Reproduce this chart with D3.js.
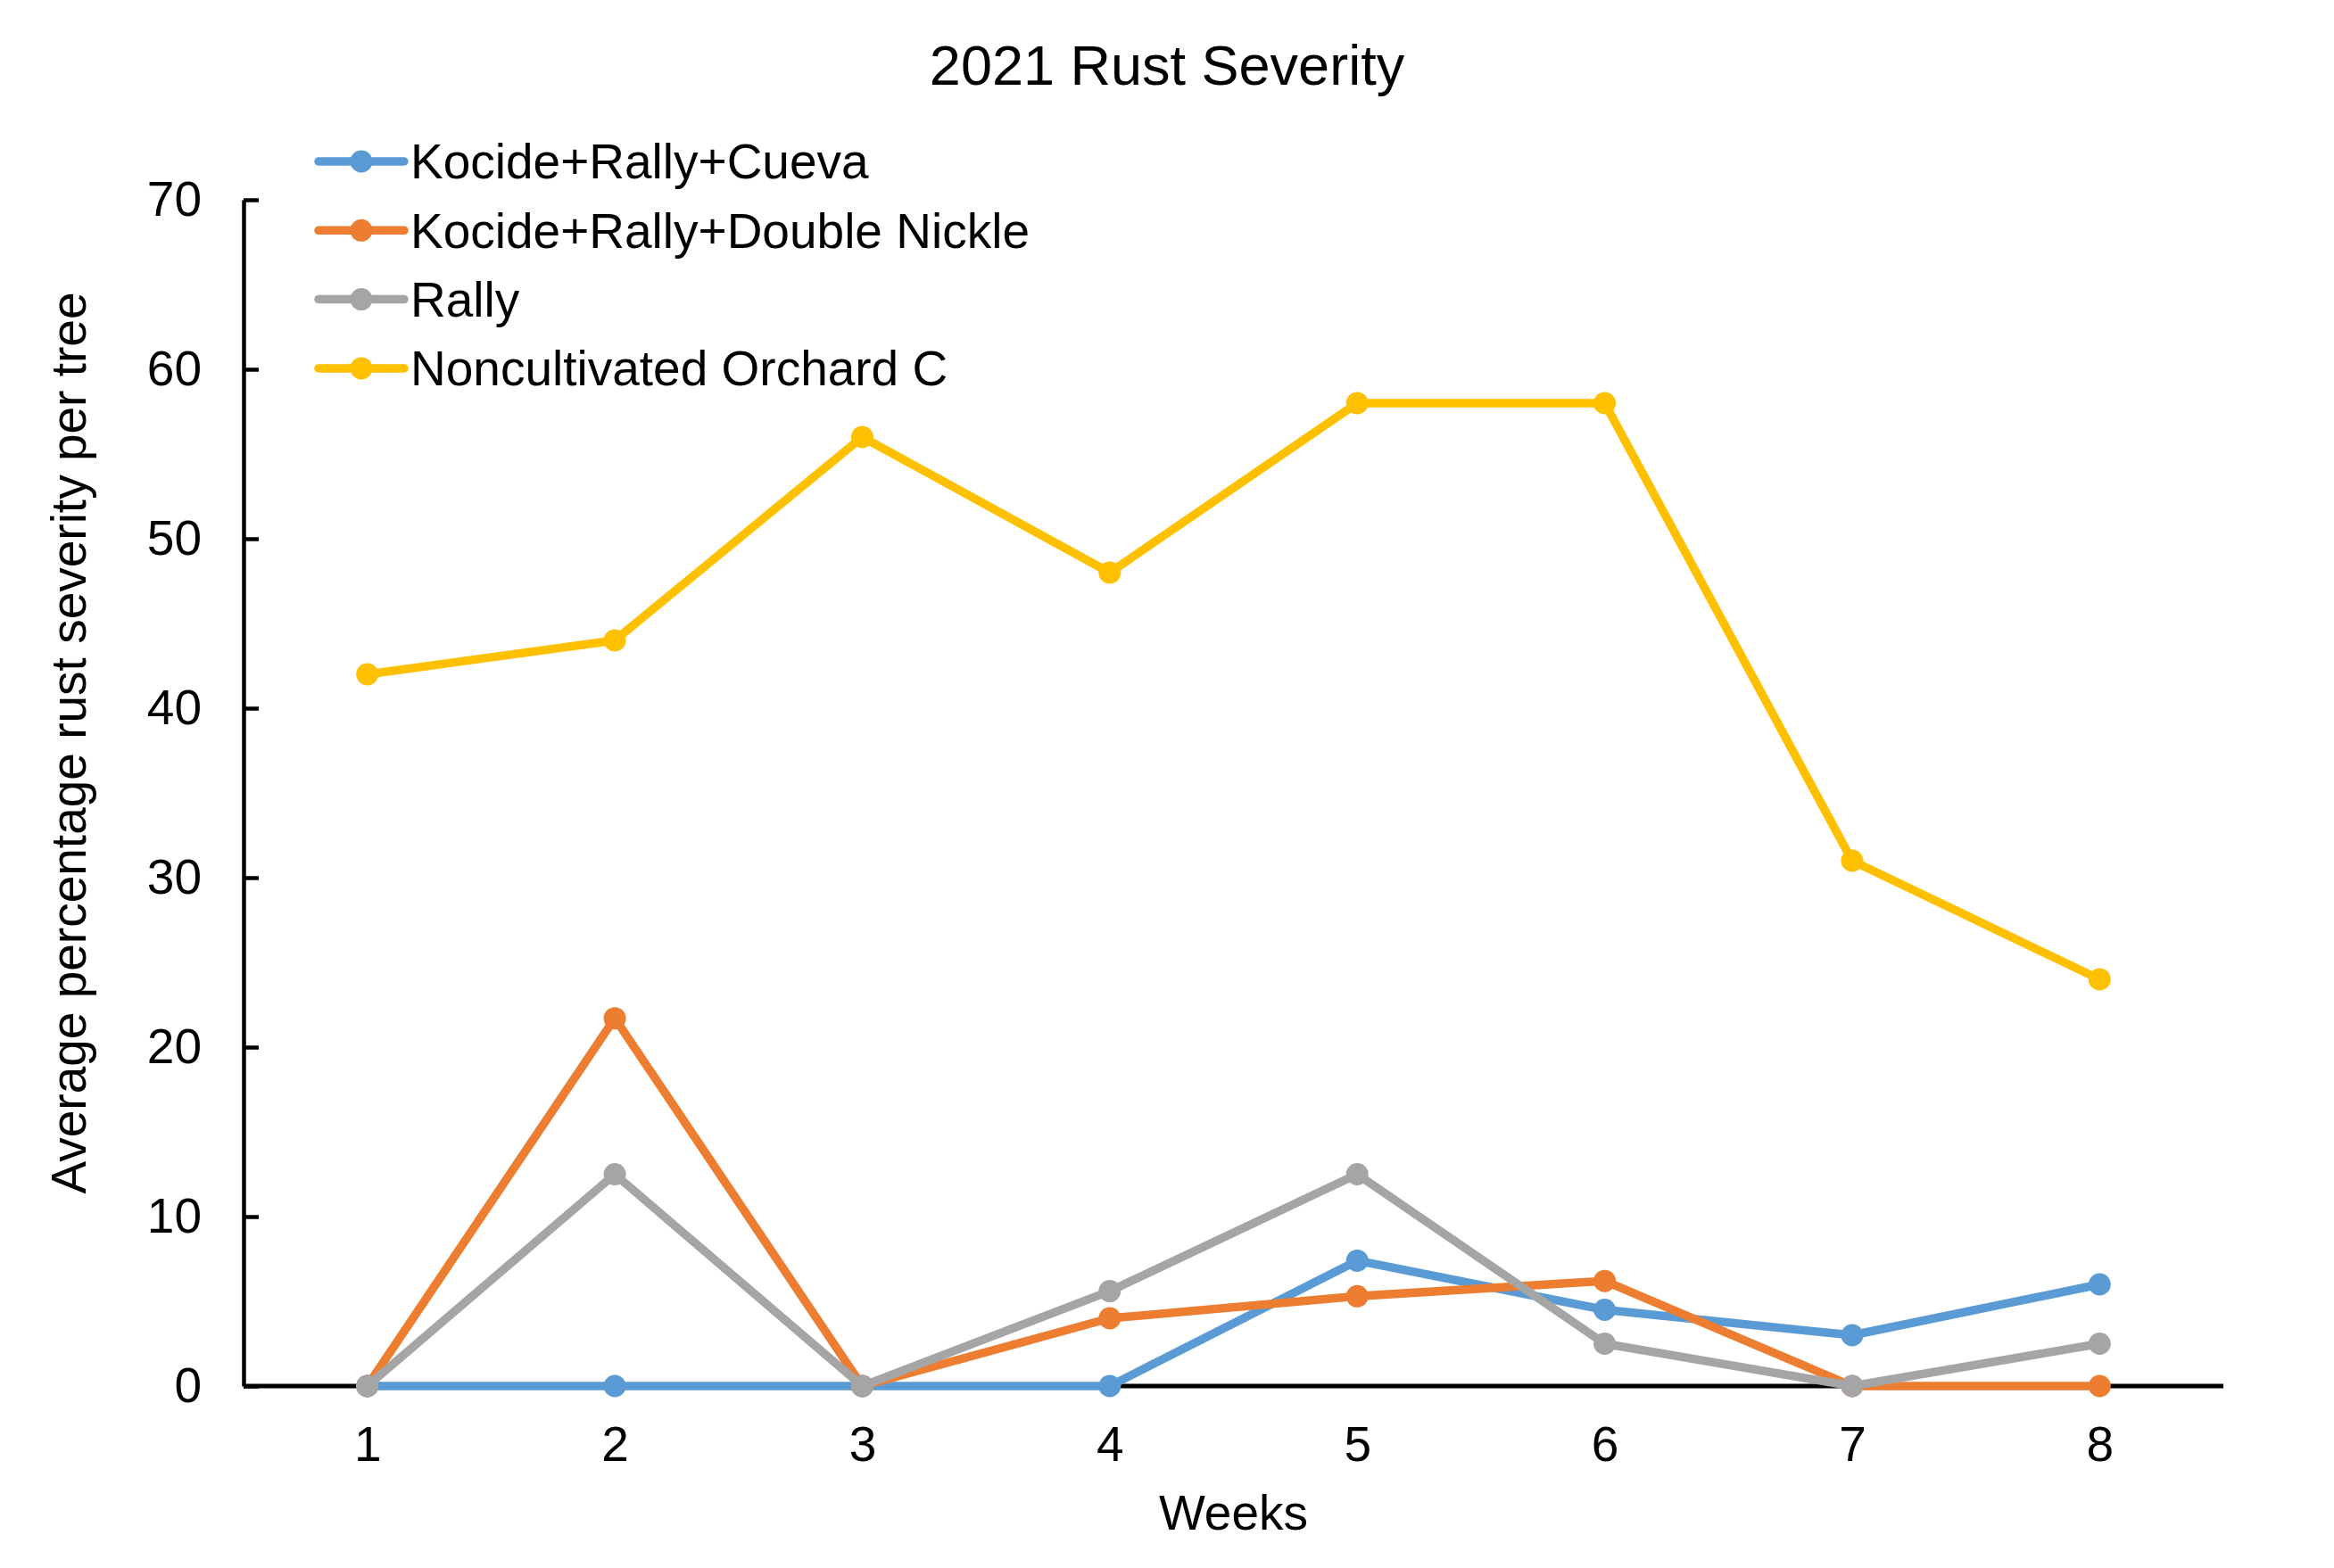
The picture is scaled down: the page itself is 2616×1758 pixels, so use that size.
<!DOCTYPE html>
<html>
<head>
<meta charset="utf-8">
<script src="https://cdn.jsdelivr.net/npm/d3@7"></script>
<style>
  html, body { margin: 0; padding: 0; background: #fff; }
  svg { display: block; font-family: "Liberation Sans", Arial, sans-serif; }
</style>
</head>
<body>
<svg id="chart" width="2616" height="1758"></svg>
<script>
const weeks = ["1", "2", "3", "4", "5", "6", "7", "8"];
const seriesNames = ["Kocide+Rally+Cueva", "Kocide+Rally+Double Nickle", "Rally", "Noncultivated Orchard C"];
const seriesColors = ["#5B9BD5", "#ED7D31", "#A5A5A5", "#FFC000"];
const cuevaValues = [0, 0, 0, 0, 7.4, 4.5, 3.0, 6.0];
const doubleNickleValues = [0, 21.7, 0, 4.0, 5.3, 6.2, 0, 0];
const rallyValues = [0, 12.5, 0, 5.6, 12.5, 2.5, 0, 2.5];
const noncultivatedValues = [42, 44, 56, 48, 58, 58, 31, 24];
const yTicks = [0, 10, 20, 30, 40, 50, 60, 70];
const titleText = "2021 Rust Severity";
const xTitle = "Weeks";
const yTitle = "Average percentage rust severity per tree";

const allValues = [cuevaValues, doubleNickleValues, rallyValues, noncultivatedValues];

const svg = d3.select("#chart");
const plot = { left: 273, right: 2492, top: 224, bottom: 1554 };
const fontSize = 55;

const x = d3.scalePoint().domain(weeks).range([plot.left, plot.right]).padding(0.5);
const y = d3.scaleLinear().domain([0, 70]).range([plot.bottom, plot.top]);

// Title
svg.append("text")
  .attr("x", 1308).attr("y", 95)
  .attr("text-anchor", "middle")
  .attr("font-size", 63)
  .attr("fill", "#000")
  .text(titleText);

// Y axis
const yAxis = svg.append("g")
  .attr("transform", `translate(${plot.left},0)`)
  .call(d3.axisLeft(y).tickValues(yTicks).tickSizeInner(-17).tickSizeOuter(0).tickPadding(47));
yAxis.select(".domain").attr("stroke", "#000").attr("stroke-width", 4.5);
yAxis.selectAll(".tick line").attr("stroke", "#000").attr("stroke-width", 4.5);
yAxis.selectAll(".tick text")
  .attr("font-size", fontSize)
  .attr("font-family", "Liberation Sans, Arial, sans-serif")
  .attr("fill", "#000");

// X axis
const xAxis = svg.append("g")
  .attr("transform", `translate(0,${plot.bottom})`)
  .call(d3.axisBottom(x).tickSize(0).tickPadding(45));
xAxis.select(".domain")
  .attr("stroke", "#000").attr("stroke-width", 5)
  .attr("d", `M${plot.left},0H${plot.right}`);
xAxis.selectAll(".tick text")
  .attr("font-size", fontSize)
  .attr("font-family", "Liberation Sans, Arial, sans-serif")
  .attr("fill", "#000");

// Axis titles
svg.append("text")
  .attr("x", (plot.left + plot.right) / 2).attr("y", 1715)
  .attr("text-anchor", "middle")
  .attr("font-size", fontSize)
  .attr("fill", "#000")
  .text(xTitle);

svg.append("text")
  .attr("transform", "translate(77,833) rotate(-90)")
  .attr("dy", "0.35em")
  .attr("text-anchor", "middle")
  .attr("font-size", fontSize)
  .attr("fill", "#000")
  .text(yTitle);

// Series
const line = d3.line().x((d, i) => x(weeks[i])).y(d => y(d));
allValues.forEach((vals, si) => {
  const g = svg.append("g");
  g.append("path")
    .attr("d", line(vals))
    .attr("fill", "none")
    .attr("stroke", seriesColors[si])
    .attr("stroke-width", 9.5)
    .attr("stroke-linejoin", "round")
    .attr("stroke-linecap", "round");
  g.selectAll("circle")
    .data(vals)
    .join("circle")
    .attr("cx", (d, i) => x(weeks[i]))
    .attr("cy", d => y(d))
    .attr("r", 12.5)
    .attr("fill", seriesColors[si]);
});

// Legend
const legend = svg.append("g");
seriesNames.forEach((name, i) => {
  const cy = 181 + i * 77.3;
  legend.append("line")
    .attr("x1", 357).attr("x2", 453)
    .attr("y1", cy).attr("y2", cy)
    .attr("stroke", seriesColors[i])
    .attr("stroke-width", 9.5)
    .attr("stroke-linecap", "round");
  legend.append("circle")
    .attr("cx", 405).attr("cy", cy).attr("r", 12.5)
    .attr("fill", seriesColors[i]);
  legend.append("text")
    .attr("x", 460).attr("y", cy)
    .attr("dy", "0.35em")
    .attr("font-size", fontSize)
    .attr("fill", "#000")
    .text(name);
});
</script>
</body>
</html>
